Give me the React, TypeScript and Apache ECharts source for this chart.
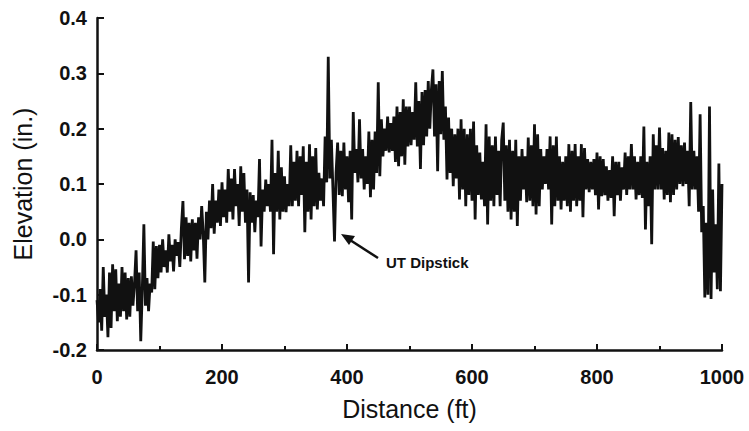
import React, { useEffect, useRef } from "react";
import * as echarts from "echarts";

// Sampling step along the profile (ft)
const STEP_FT = 2.5;

// Elevation (in.) read from the profile, every 2.5 ft, grouped by 100-ft stretch
const elev000: number[] = [
  -0.11, -0.15, -0.09, -0.165, -0.05, -0.14, -0.1, -0.177, -0.06, -0.16,
  -0.045, -0.13, -0.054, -0.148, -0.08, -0.14, -0.05, -0.13, -0.06, -0.145,
  -0.07, -0.14, -0.067, -0.12, -0.08, -0.02, -0.13, -0.06, -0.184, -0.09,
  0.027, -0.12, -0.07, -0.13, -0.08, -0.096, -0.004, -0.09, -0.012, -0.07,
];
const elev100: number[] = [
  -0.01, -0.06, 0.0, -0.05, -0.02, -0.06, 0.009, -0.04, -0.01, -0.058,
  0.0, -0.03, -0.005, -0.05, 0.02, 0.069, -0.036, 0.04, -0.03, 0.03,
  -0.04, 0.036, -0.02, 0.03, -0.035, 0.04, 0.0, 0.06, 0.01, -0.078,
  0.05, 0.0, 0.07, 0.02, 0.1, 0.01, 0.07, 0.03, 0.09, 0.024,
];
const elev200: number[] = [
  0.103, 0.04, 0.09, 0.03, 0.127, 0.05, 0.11, 0.036, 0.127, 0.06,
  0.1, 0.024, 0.132, 0.05, 0.12, 0.03, 0.09, -0.078, 0.085, 0.03,
  0.08, 0.013, 0.07, 0.04, 0.145, -0.013, 0.09, 0.05, 0.108, 0.06,
  0.1, 0.05, 0.18, -0.027, 0.12, 0.05, 0.16, 0.036, 0.13, 0.05,
];
const elev300: number[] = [
  0.114, 0.049, 0.1, 0.06, 0.17, 0.06, 0.14, 0.07, 0.16, 0.06,
  0.15, 0.08, 0.168, 0.013, 0.14, 0.05, 0.172, 0.036, 0.15, 0.06,
  0.165, 0.054, 0.12, 0.07, 0.11, 0.06, 0.186, 0.103, 0.33, 0.11,
  0.18, 0.09, -0.004, 0.12, 0.175, 0.08, 0.16, 0.078, 0.175, 0.09,
];
const elev400: number[] = [
  0.15, 0.067, 0.16, 0.036, 0.23, 0.12, 0.163, 0.103, 0.217, 0.11,
  0.163, 0.09, 0.15, 0.1, 0.195, 0.076, 0.18, 0.09, 0.195, 0.12,
  0.284, 0.114, 0.217, 0.15, 0.2, 0.16, 0.222, 0.157, 0.21, 0.16,
  0.222, 0.14, 0.24, 0.132, 0.23, 0.15, 0.253, 0.135, 0.24, 0.168,
];
const elev500: number[] = [
  0.24, 0.17, 0.23, 0.18, 0.284, 0.168, 0.25, 0.127, 0.266, 0.17,
  0.27, 0.186, 0.286, 0.2, 0.27, 0.307, 0.186, 0.28, 0.123, 0.286,
  0.19, 0.304, 0.18, 0.24, 0.108, 0.22, 0.12, 0.2, 0.096, 0.19,
  0.11, 0.2, 0.072, 0.217, 0.09, 0.2, 0.06, 0.19, 0.08, 0.2,
];
const elev600: number[] = [
  0.07, 0.213, 0.036, 0.17, 0.08, 0.157, 0.072, 0.14, 0.06, 0.208,
  0.027, 0.186, 0.07, 0.17, 0.06, 0.186, 0.08, 0.16, 0.06, 0.18,
  0.211, 0.07, 0.17, 0.05, 0.18, 0.036, 0.16, 0.05, 0.18, 0.024,
  0.15, 0.07, 0.163, 0.09, 0.15, 0.067, 0.184, 0.07, 0.17, 0.06,
];
const elev700: number[] = [
  0.208, 0.045, 0.19, 0.06, 0.163, 0.09, 0.15, 0.1, 0.163, 0.09,
  0.186, 0.027, 0.17, 0.06, 0.186, 0.07, 0.15, 0.054, 0.14, 0.07,
  0.15, 0.06, 0.172, 0.05, 0.16, 0.07, 0.172, 0.06, 0.15, 0.07,
  0.172, 0.04, 0.165, 0.09, 0.145, 0.085, 0.14, 0.09, 0.145, 0.08,
];
const elev800: number[] = [
  0.157, 0.054, 0.15, 0.078, 0.145, 0.08, 0.132, 0.07, 0.125, 0.075,
  0.15, 0.042, 0.14, 0.08, 0.14, 0.07, 0.13, 0.09, 0.157, 0.08,
  0.15, 0.09, 0.172, 0.09, 0.15, 0.072, 0.14, 0.08, 0.15, 0.075,
  0.204, 0.018, 0.14, 0.06, 0.15, -0.009, 0.19, 0.09, 0.17, 0.09,
];
const elev900: number[] = [
  0.202, 0.09, 0.165, 0.072, 0.16, 0.08, 0.193, 0.067, 0.19, 0.08,
  0.18, 0.09, 0.185, 0.1, 0.17, 0.096, 0.175, 0.1, 0.16, 0.06,
  0.248, 0.09, 0.16, 0.09, 0.15, 0.05, 0.226, 0.013, 0.06, -0.105,
  0.03, -0.1, 0.24, -0.108, 0.09, -0.06, 0.027, -0.09, 0.137, -0.094,
  0.1,
];

// Axis ticks
const xTicks = [0, 200, 400, 600, 800, 1000];
const yTicks = [-0.2, -0.1, 0.0, 0.1, 0.2, 0.3, 0.4];

const annotationText = "UT Dipstick";

export default function App() {
  const ref = useRef<HTMLDivElement>(null);

  useEffect(() => {
    if (!ref.current) return;
    const chart = echarts.init(ref.current, undefined, { renderer: "svg" });
    const elevations = [
      ...elev000, ...elev100, ...elev200, ...elev300, ...elev400,
      ...elev500, ...elev600, ...elev700, ...elev800, ...elev900,
    ];
    const data = elevations.map((v, i) => [i * STEP_FT, v]);
    const font = "'Liberation Sans', Arial, Helvetica, sans-serif";

    chart.setOption({
      animation: false,
      backgroundColor: "#ffffff",
      grid: { left: 97, right: 27, top: 18, bottom: 81 },
      xAxis: {
        type: "value",
        min: xTicks[0],
        max: xTicks[xTicks.length - 1],
        interval: 200,
        name: "Distance (ft)",
        nameLocation: "middle",
        nameGap: 46,
        nameTextStyle: { fontFamily: font, fontSize: 25, color: "#111" },
        axisLine: { show: true, onZero: false, lineStyle: { color: "#111", width: 2.5 } },
        axisTick: { show: true, inside: true, length: 6, lineStyle: { color: "#111", width: 2 } },
        minorTick: { show: true, splitNumber: 2, length: 4, lineStyle: { color: "#111", width: 2 } },
        axisLabel: {
          fontFamily: font,
          fontSize: 20,
          fontWeight: "bold",
          color: "#111",
          margin: 17,
          formatter: (v: number) => String(v),
        },
        splitLine: { show: false },
      },
      yAxis: {
        type: "value",
        min: yTicks[0],
        max: yTicks[yTicks.length - 1],
        interval: 0.1,
        name: "Elevation (in.)",
        nameLocation: "middle",
        nameGap: 62,
        nameTextStyle: { fontFamily: font, fontSize: 25, color: "#111" },
        axisLine: { show: true, onZero: false, lineStyle: { color: "#111", width: 2.5 } },
        axisTick: { show: true, inside: true, length: 7, lineStyle: { color: "#111", width: 2 } },
        axisLabel: {
          fontFamily: font,
          fontSize: 20,
          fontWeight: "bold",
          color: "#111",
          margin: 10,
          formatter: (v: number) => v.toFixed(1),
        },
        splitLine: { show: false },
      },
      series: [
        {
          type: "line",
          data,
          showSymbol: false,
          lineStyle: { color: "#111", width: 2.8, join: "miter", miterLimit: 3 },
          silent: true,
        },
      ],
      graphic: [
        {
          type: "line",
          shape: { x1: 378, y1: 258, x2: 350, y2: 240 },
          style: { stroke: "#111", lineWidth: 2.5 },
        },
        {
          type: "polygon",
          shape: { points: [[341, 234], [355, 236], [349, 245]] },
          style: { fill: "#111" },
        },
        {
          type: "text",
          x: 386,
          y: 262,
          style: {
            text: annotationText,
            fontFamily: font,
            fontSize: 15,
            fontWeight: "bold",
            fill: "#111",
            verticalAlign: "middle",
          },
        },
      ],
    });

    return () => chart.dispose();
  }, []);

  return (
    <div
      ref={ref}
      style={{ position: "fixed", left: 0, top: 0, width: 749, height: 431 }}
    />
  );
}
